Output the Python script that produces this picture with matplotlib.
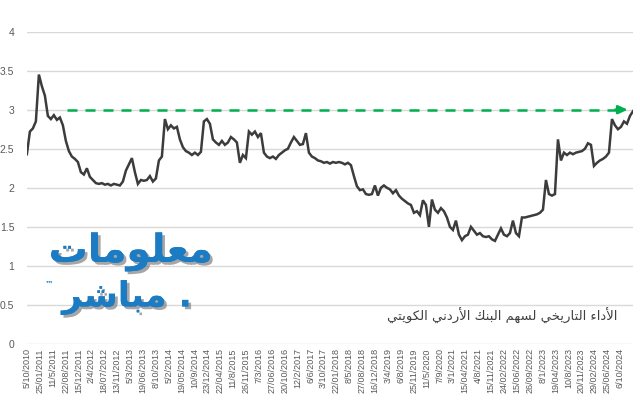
"""Historical share price of Jordan Kuwait Bank, redrawn from an Excel-style chart."""

import matplotlib

matplotlib.use("Agg")
import matplotlib.patheffects as pe
import matplotlib.pyplot as plt
import numpy as np

# category labels on the x axis (one every ~70 sessions)
date_labels = [
    "5/10/2010", "25/01/2011", "11/5/2011", "22/08/2011", "15/12/2011",
    "2/4/2012", "18/07/2012", "13/11/2012", "5/3/2013", "19/06/2013",
    "8/10/2013", "5/2/2014", "19/05/2014", "10/9/2014", "23/12/2014",
    "22/04/2015", "11/8/2015", "26/11/2015", "7/3/2016", "27/06/2016",
    "20/10/2016", "12/2/2017", "6/6/2017", "3/10/2017", "22/01/2018",
    "8/5/2018", "27/08/2018", "16/12/2018", "3/4/2019", "6/8/2019",
    "25/11/2019", "11/5/2020", "7/9/2020", "3/1/2021", "15/04/2021",
    "4/8/2021", "15/11/2021", "24/02/2022", "15/06/2022", "26/09/2022",
    "8/1/2023", "19/04/2023", "10/8/2023", "20/11/2023", "29/02/2024",
    "25/06/2024", "6/10/2024",
]

prices = [
    2.43, 2.72, 2.76, 2.85, 3.45, 3.30, 3.18, 2.92, 2.88, 2.93,
    2.87, 2.90, 2.80, 2.60, 2.47, 2.40, 2.37, 2.33, 2.20, 2.17,
    2.25, 2.14, 2.10, 2.06, 2.05, 2.06, 2.04, 2.05, 2.03, 2.05,
    2.04, 2.03, 2.08, 2.22, 2.30, 2.38, 2.20, 2.05, 2.10, 2.09,
    2.10, 2.15, 2.08, 2.12, 2.35, 2.40, 2.88, 2.75, 2.80, 2.76,
    2.78, 2.62, 2.52, 2.47, 2.45, 2.42, 2.45, 2.42, 2.46, 2.85,
    2.88, 2.82, 2.62, 2.58, 2.55, 2.60, 2.55, 2.58, 2.65, 2.62,
    2.58, 2.32, 2.42, 2.38, 2.72, 2.68, 2.72, 2.65, 2.70, 2.45,
    2.40, 2.38, 2.40, 2.37, 2.42, 2.45, 2.48, 2.50, 2.58, 2.65,
    2.60, 2.55, 2.56, 2.70, 2.45, 2.40, 2.38, 2.35, 2.34, 2.32,
    2.33, 2.31, 2.33, 2.32, 2.33, 2.32, 2.30, 2.32, 2.29, 2.15,
    2.02, 1.97, 1.98, 1.92, 1.91, 1.92, 2.03, 1.90, 2.00, 2.03,
    2.00, 1.98, 1.93, 1.97, 1.90, 1.86, 1.83, 1.80, 1.78, 1.68,
    1.70, 1.65, 1.84, 1.78, 1.50, 1.85, 1.72, 1.68, 1.74, 1.70,
    1.62, 1.50, 1.46, 1.58, 1.40, 1.33, 1.38, 1.40, 1.50, 1.45,
    1.40, 1.42, 1.38, 1.37, 1.38, 1.34, 1.32, 1.40, 1.48, 1.40,
    1.38, 1.42, 1.58, 1.42, 1.38, 1.62, 1.62, 1.63, 1.64, 1.65,
    1.66, 1.68, 1.72, 2.10, 1.92, 1.90, 1.92, 2.62, 2.35, 2.45,
    2.42, 2.45, 2.43, 2.45, 2.46, 2.47, 2.50, 2.57, 2.55, 2.28,
    2.32, 2.35, 2.37, 2.40, 2.45, 2.88, 2.80, 2.75, 2.78, 2.85,
    2.82, 2.92, 2.98,
]

target_price = 3.0
y_ticks = [0, 0.5, 1, 1.5, 2, 2.5, 3, 3.5, 4]

caption = "الأداء التاريخي لسهم البنك الأردني الكويتي"
logo_top = "معلومات"
logo_bottom = "مباشر"

# --- minimal Arabic shaping (matplotlib has no complex text layout) -------
# char -> (isolated, final, initial, medial); right-joining letters have no
# initial/medial forms.
FORMS = {
    "ء": ("\ufe80", None, None, None),
    "أ": ("\ufe83", "\ufe84", None, None),
    "ا": ("\ufe8d", "\ufe8e", None, None),
    "ب": ("\ufe8f", "\ufe90", "\ufe91", "\ufe92"),
    "ت": ("\ufe95", "\ufe96", "\ufe97", "\ufe98"),
    "خ": ("\ufea5", "\ufea6", "\ufea7", "\ufea8"),
    "د": ("\ufea9", "\ufeaa", None, None),
    "ر": ("\ufead", "\ufeae", None, None),
    "س": ("\ufeb1", "\ufeb2", "\ufeb3", "\ufeb4"),
    "ش": ("\ufeb5", "\ufeb6", "\ufeb7", "\ufeb8"),
    "ع": ("\ufec9", "\ufeca", "\ufecb", "\ufecc"),
    "ك": ("\ufed9", "\ufeda", "\ufedb", "\ufedc"),
    "ل": ("\ufedd", "\ufede", "\ufedf", "\ufee0"),
    "م": ("\ufee1", "\ufee2", "\ufee3", "\ufee4"),
    "ن": ("\ufee5", "\ufee6", "\ufee7", "\ufee8"),
    "ه": ("\ufee9", "\ufeea", "\ufeeb", "\ufeec"),
    "و": ("\ufeed", "\ufeee", None, None),
    "ي": ("\ufef1", "\ufef2", "\ufef3", "\ufef4"),
}
LAM_ALEF = {"ا": ("\ufefb", "\ufefc"), "أ": ("\ufef7", "\ufef8")}


def _dual(ch):
    return ch in FORMS and FORMS[ch][2] is not None


def shape_arabic(text):
    """Return the string in visual (left-to-right) order with joined forms."""
    out = []
    i = 0
    while i < len(text):
        ch = text[i]
        if ch not in FORMS:
            out.append(ch)
            i += 1
            continue
        prev = text[i - 1] if i > 0 else ""
        joins_prev = _dual(prev)
        nxt = text[i + 1] if i + 1 < len(text) else ""
        if ch == "ل" and nxt in LAM_ALEF:
            out.append(LAM_ALEF[nxt][1 if joins_prev else 0])
            i += 2
            continue
        joins_next = _dual(ch) and nxt in FORMS
        iso, fin, ini, med = FORMS[ch]
        if joins_prev and joins_next:
            out.append(med)
        elif joins_prev:
            out.append(fin)
        elif joins_next:
            out.append(ini)
        else:
            out.append(iso)
        i += 1
    return "".join(reversed(out))


# --- figure --------------------------------------------------------------
fig = plt.figure(figsize=(6.4, 4.0), dpi=100)
ax = fig.add_axes([0.042, 0.14, 0.947, 0.781])

x = np.linspace(0, len(date_labels), len(prices))
ax.plot(x, prices, color="#3c3c3c", lw=1.8, solid_joinstyle="miter")

# target level with arrow head
x_start, x_end = 3.08, 46.6
ax.plot([x_start, x_end - 0.6], [target_price, target_price], color="#00b050",
        lw=1.8, dashes=(4, 3.2))
ax.annotate("", xy=(x_end, target_price), xytext=(x_end - 1.0, target_price),
            arrowprops=dict(arrowstyle="-|>,head_length=0.55,head_width=0.25",
                            color="#00b050", lw=1.8, shrinkA=0, shrinkB=0))

ax.set_xlim(0, len(date_labels))
ax.set_ylim(0, 4)
ax.set_yticks(y_ticks)
ax.set_yticklabels([f"{v:g}" for v in y_ticks], fontsize=7.5, color="#595959",
                   family="Liberation Sans")
ax.set_xticks(range(len(date_labels)))
ax.set_xticklabels(date_labels, rotation=90, fontsize=6.5, color="#595959",
                   family="Liberation Sans", va="top")
ax.tick_params(axis="both", length=0)
ax.tick_params(axis="y", pad=9)
ax.tick_params(axis="x", pad=3)
ax.grid(axis="y", color="#d9d9d9", lw=1)
ax.set_axisbelow(True)
for s in ax.spines.values():
    s.set_visible(False)

ax.text(0.974, 0.09, shape_arabic(caption), transform=ax.transAxes,
        ha="right", va="center", fontsize=9.5, color="#404040",
        family="DejaVu Sans")

# watermark logo
shadow = [pe.withSimplePatchShadow(offset=(2, -2), shadow_rgbFace="#808080",
                                   alpha=0.7), pe.Normal()]
ax.text(0.307, 0.295, shape_arabic(logo_top), transform=ax.transAxes,
        ha="right", va="center", fontsize=28, fontweight="bold",
        color="#1b7cc4", family="DejaVu Sans", path_effects=shadow)
ax.text(0.272, 0.15, shape_arabic(logo_bottom) + " .", transform=ax.transAxes,
        ha="right", va="center", fontsize=25, fontweight="bold",
        color="#1b7cc4", family="DejaVu Sans", path_effects=shadow)
ax.text(0.036, 0.19, "™", transform=ax.transAxes, ha="center", va="center",
        fontsize=6, fontweight="bold", color="#1b7cc4")

fig.savefig("out.png", dpi=100)
